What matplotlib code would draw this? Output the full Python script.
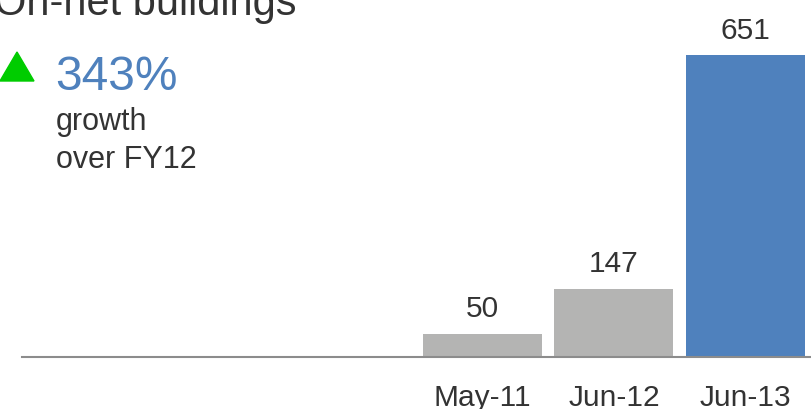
import matplotlib

matplotlib.use("Agg")
import matplotlib.pyplot as plt
from matplotlib.patches import Polygon

plt.rcParams["font.family"] = ["Liberation Sans", "DejaVu Sans"]

# データ
categories = ["May-11", "Jun-12", "Jun-13"]
values = [50, 147, 651]
bar_colors = ["#b4b4b3", "#b4b4b3", "#4f81bd"]
slot_offset = 3          # 左側 3 スロットは空き
growth_text = "343%"
TEXT_COLOR = "#333333"

W, H = 812, 410
fig = plt.figure(figsize=(W / 100, H / 100), dpi=100)
ax = fig.add_axes([22 / W, (H - 358) / H, (812 - 22) / W, 358 / H])

xs = [slot_offset + i for i in range(len(categories))]
bars = ax.bar(xs, values, width=0.905, color=bar_colors, zorder=2)
for b, v in zip(bars, values):
    ax.annotate(f"{v}", (b.get_x() + b.get_width() / 2, v),
                xytext=(0, 12.5), textcoords="offset points",
                ha="center", va="baseline", fontsize=21.5, color=TEXT_COLOR)

ax.set_xlim(-0.502, 5.506)
ax.set_ylim(0, 772)
ax.set_xticks(xs)
ax.set_xticklabels(categories, fontsize=21.5, color=TEXT_COLOR)
ax.tick_params(axis="x", length=0, pad=18.5)
ax.set_yticks([])
for s in ["top", "left", "right"]:
    ax.spines[s].set_visible(False)
ax.spines["bottom"].set_color("#8c8c8c")
ax.spines["bottom"].set_linewidth(1.5)
ax.patch.set_alpha(0)

# タイトル(上端で切れている)
fig.text(-6 / W, 1 - 15 / H, "On-net buildings", fontsize=30,
         color=TEXT_COLOR, ha="left", va="baseline")

# 成長率
tri = Polygon([[0 / W, 1 - 82 / H], [34 / W, 1 - 82 / H], [17 / W, 1 - 53 / H]],
              closed=True, transform=fig.transFigure, color="#00cc00")
fig.patches.append(tri)
fig.text(55 / W, 1 - 90 / H, growth_text, fontsize=34.5, color="#4f81bd",
         ha="left", va="baseline")
fig.text(56 / W, 1 - 130 / H, "growth", fontsize=22, color=TEXT_COLOR,
         ha="left", va="baseline")
fig.text(56 / W, 1 - 168 / H, "over FY12", fontsize=22, color=TEXT_COLOR,
         ha="left", va="baseline")

fig.savefig("out.png", dpi=100)
